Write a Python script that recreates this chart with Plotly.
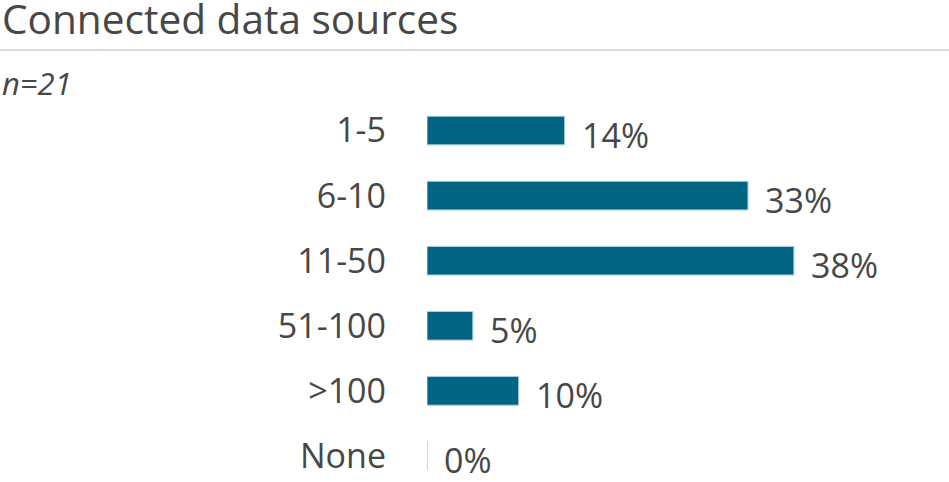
import plotly.graph_objects as go

categories = ["1-5", "6-10", "11-50", "51-100", ">100", "None"]
values = [14.29, 33.33, 38.10, 4.76, 9.52, 0.0]
labels = ["14%", "33%", "38%", "5%", "10%", "0%"]

title_text = "Connected data sources"
subtitle_text = "n=21"

W, H = 949, 482
L, T = 427, 98
PW, PH = W - L, H - T

text_color = "#474747"
bar_color = "#006482"
font_family = "Open Sans, sans-serif"

def px_to_paper_x(px):
    return (px - L) / PW

def px_to_paper_y(py):
    return (H - py) / PH

fig = go.Figure()
fig.add_trace(go.Bar(
    x=values, y=categories, orientation="h",
    marker=dict(color=bar_color, line=dict(color="#a9cfdc", width=1)),
    hoverinfo="skip",
))

annotations = []
for c, v, lab in zip(categories, values, labels):
    annotations.append(dict(
        x=v, y=c, xref="x", yref="y", text=lab, showarrow=False,
        xanchor="left", yanchor="middle", xshift=15, yshift=-4,
        font=dict(size=34, color=text_color, family=font_family),
    ))

annotations.append(dict(
    x=px_to_paper_x(0), y=px_to_paper_y(18), xref="paper", yref="paper",
    text=title_text, showarrow=False, xanchor="left", yanchor="middle",
    font=dict(size=40.6, color=text_color, family=font_family),
))
annotations.append(dict(
    x=px_to_paper_x(0), y=px_to_paper_y(83), xref="paper", yref="paper",
    text="<i>" + subtitle_text + "</i>", showarrow=False, xanchor="left", yanchor="middle",
    font=dict(size=31, color=text_color, family=font_family),
))

fig.update_layout(
    width=W, height=H,
    margin=dict(l=L, r=0, t=T, b=0, pad=0),
    paper_bgcolor="white", plot_bgcolor="white",
    showlegend=False,
    bargap=0.56,
    annotations=annotations,
    shapes=[dict(
        type="line", xref="paper", yref="paper",
        x0=px_to_paper_x(0), x1=px_to_paper_x(W),
        y0=px_to_paper_y(50), y1=px_to_paper_y(50),
        line=dict(color="#d9d9d9", width=2),
    )],
    xaxis=dict(range=[0, PW / 9.63], visible=False, fixedrange=True),
    yaxis=dict(
        categoryorder="array", categoryarray=categories,
        range=[5.4, -0.5], showgrid=False, zeroline=False, showline=False,
        ticks="", ticklabelstandoff=40,
        tickfont=dict(size=34, color=text_color, family=font_family),
        fixedrange=True,
    ),
)

fig.write_html(
    "out.html",
    config={"displayModeBar": False},
    post_script="document.body.style.margin='0';document.body.style.overflow='hidden';",
)
